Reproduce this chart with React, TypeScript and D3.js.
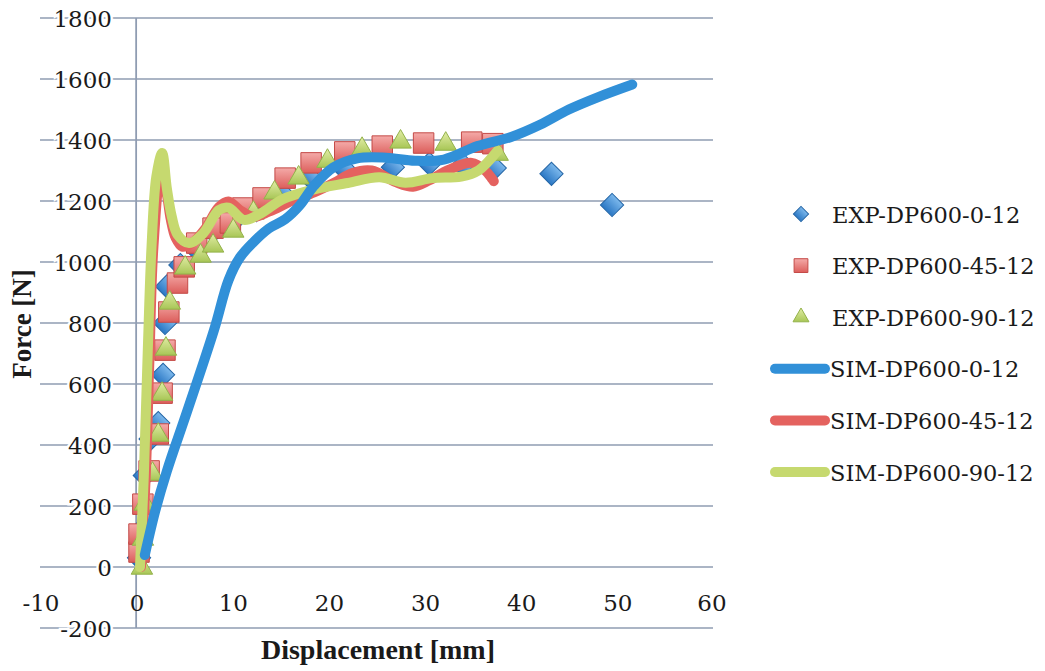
import React, { useEffect, useRef } from "react";
import * as d3 from "d3";

// --- Experimental markers: displacement [mm] / force [N] ---
const exp0Disp = [0.3, 0.5, 0.9, 1.5, 2.3, 2.8, 3.0, 3.2, 4.6, 6.0, 8.0, 10.0, 12.5, 15.0, 18.0, 21.5, 26.7, 30.5, 34.0, 37.3, 43.2, 49.5];
const exp0Force = [30, 120, 300, 420, 472, 630, 800, 920, 990, 1050, 1100, 1130, 1170, 1230, 1280, 1310, 1311, 1322, 1318, 1308, 1289, 1187];

const exp45Disp = [0.3, 0.3, 0.7, 1.35, 2.3, 2.7, 3.0, 3.4, 4.3, 5.0, 6.3, 8.0, 9.8, 11.1, 13.2, 15.5, 18.2, 21.7, 25.6, 29.9, 34.9, 37.1];
const exp45Force = [49, 108, 206, 315, 436, 570, 711, 836, 931, 984, 1062, 1111, 1128, 1177, 1210, 1275, 1325, 1361, 1380, 1390, 1393, 1388];

const exp90Disp = [0.6, 0.7, 0.9, 1.7, 2.3, 2.7, 3.1, 3.5, 5.1, 6.7, 8.0, 10.1, 12.2, 14.4, 16.9, 19.9, 23.5, 27.5, 32.2, 37.6];
const exp90Force = [0, 95, 210, 308, 436, 570, 718, 869, 984, 1023, 1056, 1105, 1164, 1230, 1279, 1334, 1373, 1397, 1390, 1357];

// --- Simulation curves ---
const sim0Disp = [0.9, 2.0, 3.2, 5.3, 8.1, 9.6, 10.8, 12.2, 13.8, 15.5, 17.0, 18.5, 20.5, 23.0, 26.0, 29.0, 32.0, 35.5, 39.0, 42.0, 45.0, 48.0, 51.6];
const sim0Force = [39, 185, 315, 510, 777, 940, 1015, 1065, 1110, 1140, 1185, 1250, 1310, 1340, 1342, 1332, 1336, 1380, 1410, 1450, 1500, 1540, 1582];

const sim45Disp = [0.5, 1.0, 1.4, 1.8, 2.6, 3.2, 3.6, 4.1, 4.8, 5.8, 7.2, 8.6, 9.6, 10.8, 12.2, 13.8, 16.2, 18.5, 20.5, 22.5, 24.5, 27.0, 28.8, 30.5, 32.5, 34.9, 36.3, 37.2];
const sim45Force = [0, 300, 700, 1050, 1300, 1220, 1140, 1080, 1050, 1062, 1110, 1180, 1198, 1170, 1148, 1165, 1200, 1228, 1258, 1292, 1300, 1262, 1247, 1268, 1302, 1325, 1300, 1265];

const sim90Disp = [0.4, 0.8, 1.2, 1.6, 2.1, 2.7, 3.2, 3.7, 4.3, 5.5, 7.0, 8.6, 9.6, 11.2, 13.0, 15.2, 18.5, 22.0, 25.3, 28.0, 30.8, 33.8, 35.6, 37.6];
const sim90Force = [0, 300, 700, 1050, 1280, 1357, 1240, 1150, 1090, 1062, 1095, 1170, 1178, 1138, 1160, 1205, 1238, 1259, 1278, 1260, 1275, 1280, 1300, 1365];

const seriesNames = ["EXP-DP600-0-12", "EXP-DP600-45-12", "EXP-DP600-90-12", "SIM-DP600-0-12", "SIM-DP600-45-12", "SIM-DP600-90-12"];

const xTicks = [-10, 0, 10, 20, 30, 40, 50, 60];
const yTicks = [-200, 0, 200, 400, 600, 800, 1000, 1200, 1400, 1600, 1800];

const FONT = "'DejaVu Serif', serif";
const TITLE_FONT = "'Liberation Serif', 'DejaVu Serif', serif";
const GRID = "#8f9cb2";

export default function App() {
    const svgRef = useRef<SVGSVGElement>(null);

    useEffect(() => {
        const svg = d3.select(svgRef.current);
        svg.selectAll("*").remove();

        const xScale = d3.scaleLinear().domain([-10, 60]).range([40, 713]);
        const yScale = d3.scaleLinear().domain([-200, 1800]).range([628, 18]);

        // --- gradients for the markers ---
        const defs = svg.append("defs");
        const grad = (id: string, top: string, bottom: string) => {
            const g = defs.append("linearGradient").attr("id", id)
                .attr("x1", 0).attr("y1", 0).attr("x2", 0).attr("y2", 1);
            g.append("stop").attr("offset", "0%").attr("stop-color", top);
            g.append("stop").attr("offset", "100%").attr("stop-color", bottom);
        };
        grad("gBlue", "#7cb8ec", "#2a77c4");
        grad("gRed", "#f4aaa8", "#dc5e5b");
        grad("gGreen", "#e2eda6", "#a8c656");

        // --- horizontal gridlines ---
        svg.append("g").selectAll("line")
            .data(yTicks)
            .join("line")
            .attr("x1", 40).attr("x2", 713)
            .attr("y1", d => yScale(d)).attr("y2", d => yScale(d))
            .attr("stroke", GRID).attr("stroke-width", 1.6);

        // --- vertical axis at x = 0 ---
        svg.append("line")
            .attr("x1", xScale(0)).attr("x2", xScale(0))
            .attr("y1", yScale(1800)).attr("y2", yScale(-200))
            .attr("stroke", GRID).attr("stroke-width", 1.8);

        // --- y tick labels ---
        svg.append("g").selectAll("text")
            .data(yTicks)
            .join("text")
            .attr("x", 112)
            .attr("y", d => yScale(d) + 8.5)
            .attr("text-anchor", "end")
            .attr("font-family", FONT).attr("font-size", 23)
            .attr("fill", "#1a1a1a")
            .attr("stroke", "#fff").attr("stroke-width", 5)
            .attr("paint-order", "stroke")
            .text(d => d);

        // --- x tick labels ---
        svg.append("g").selectAll("text")
            .data(xTicks)
            .join("text")
            .attr("x", d => (d === 60 ? xScale(d) - 1 : xScale(d) + 1))
            .attr("y", 611)
            .attr("text-anchor", "middle")
            .attr("font-family", FONT).attr("font-size", 23)
            .attr("fill", "#1a1a1a")
            .text(d => d);

        // --- axis titles ---
        svg.append("text")
            .attr("transform", "translate(31,324) rotate(-90)")
            .attr("text-anchor", "middle")
            .attr("font-family", TITLE_FONT).attr("font-size", 27).attr("font-weight", "bold")
            .attr("fill", "#1a1a1a")
            .text("Force [N]");

        svg.append("text")
            .attr("x", 378).attr("y", 659)
            .attr("text-anchor", "middle")
            .attr("font-family", TITLE_FONT).attr("font-size", 28).attr("font-weight", "bold")
            .attr("fill", "#1a1a1a")
            .text("Displacement [mm]");

        const zip = (xs: number[], ys: number[]) => xs.map((x, i) => [x, ys[i]] as [number, number]);

        const diamond = d3.symbol().type(d3.symbolSquare).size(270);
        const square = d3.symbol().type(d3.symbolSquare).size(420);
        const triangle = d3.symbol().type(d3.symbolTriangle).size(200);

        // --- markers ---
        svg.append("g").selectAll("path")
            .data(zip(exp0Disp, exp0Force))
            .join("path")
            .attr("d", diamond())
            .attr("transform", d => `translate(${xScale(d[0])},${yScale(d[1])}) rotate(45)`)
            .attr("fill", "url(#gBlue)").attr("stroke", "#2566a6").attr("stroke-width", 1);

        svg.append("g").selectAll("path")
            .data(zip(exp45Disp, exp45Force))
            .join("path")
            .attr("d", square())
            .attr("transform", d => `translate(${xScale(d[0])},${yScale(d[1])})`)
            .attr("fill", "url(#gRed)").attr("stroke", "#c44a47").attr("stroke-width", 1);

        svg.append("g").selectAll("path")
            .data(zip(exp90Disp, exp90Force))
            .join("path")
            .attr("d", triangle())
            .attr("transform", d => `translate(${xScale(d[0])},${yScale(d[1]) + 1})`)
            .attr("fill", "url(#gGreen)").attr("stroke", "#93b24a").attr("stroke-width", 1);

        // --- simulation lines ---
        const line = d3.line<[number, number]>()
            .x(d => xScale(d[0]))
            .y(d => yScale(d[1]))
            .curve(d3.curveCatmullRom.alpha(0.5));

        const lines: [number[], number[], string][] = [
            [sim45Disp, sim45Force, "#e4625f"],
            [sim90Disp, sim90Force, "#c6d96f"],
            [sim0Disp, sim0Force, "#3190d8"],
        ];
        lines.forEach(([xs, ys, color]) => {
            svg.append("path")
                .attr("d", line(zip(xs, ys)))
                .attr("fill", "none")
                .attr("stroke", color)
                .attr("stroke-width", 10)
                .attr("stroke-linecap", "round")
                .attr("stroke-linejoin", "round");
        });

        // --- legend ---
        const legend = svg.append("g");
        const rowY = (i: number) => 214 + i * 51.6;
        const markerStyles = [
            { shape: d3.symbol().type(d3.symbolSquare).size(115)(), rot: 45, fill: "url(#gBlue)", stroke: "#2566a6" },
            { shape: d3.symbol().type(d3.symbolSquare).size(190)(), rot: 0, fill: "url(#gRed)", stroke: "#c44a47" },
            { shape: d3.symbol().type(d3.symbolTriangle).size(110)(), rot: 0, fill: "url(#gGreen)", stroke: "#93b24a" },
        ];
        markerStyles.forEach((m, i) => {
            legend.append("path")
                .attr("d", m.shape)
                .attr("transform", `translate(801,${rowY(i)}) rotate(${m.rot})`)
                .attr("fill", m.fill).attr("stroke", m.stroke);
        });
        ["#3190d8", "#e4625f", "#c6d96f"].forEach((c, i) => {
            legend.append("line")
                .attr("x1", 775).attr("x2", 825)
                .attr("y1", rowY(i + 3)).attr("y2", rowY(i + 3))
                .attr("stroke", c).attr("stroke-width", 10)
                .attr("stroke-linecap", "round");
        });
        legend.selectAll("text")
            .data(seriesNames)
            .join("text")
            .attr("x", (d, i) => (i < 3 ? 832 : 830))
            .attr("y", (d, i) => rowY(i) + 8.5)
            .attr("font-family", FONT).attr("font-size", 22.5)
            .attr("fill", "#1a1a1a")
            .text(d => d);
    }, []);

    return (
        <svg
            ref={svgRef}
            width={1045}
            height={671}
            style={{ position: "absolute", left: 0, top: 0, background: "#fff" }}
        />
    );
}
